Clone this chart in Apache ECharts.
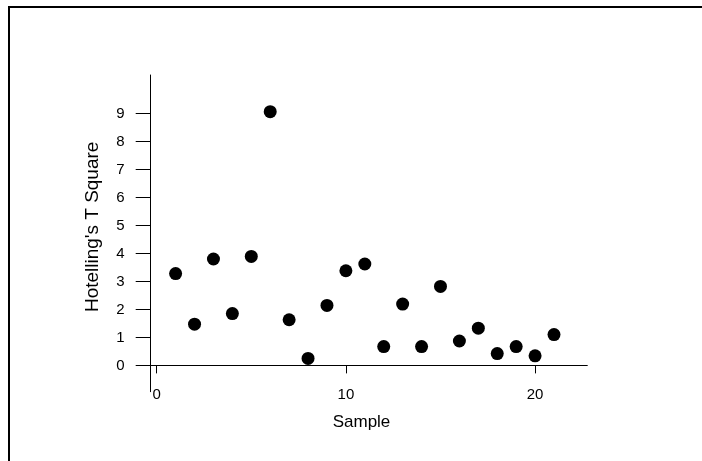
<!DOCTYPE html>
<html>
<head>
<meta charset="utf-8">
<script src="https://cdn.jsdelivr.net/npm/echarts@6/dist/echarts.min.js"></script>
<style>
html,body{margin:0;padding:0;background:#fff;}
#chart{width:702px;height:461px;}
</style>
</head>
<body>
<div id="chart"></div>
<script>
var sampleIds = [1,2,3,4,5,6,7,8,9,10,11,12,13,14,15,16,17,18,19,20,21];
var tSquare = [3.28,1.47,3.80,1.85,3.89,9.06,1.63,0.25,2.14,3.38,3.62,0.67,2.19,0.67,2.82,0.87,1.33,0.42,0.67,0.34,1.10];
var xTicks = [0,10,20];
var yTicks = [0,1,2,3,4,5,6,7,8,9];
var xName = 'Sample';
var yName = "Hotelling's T Square";

var points = sampleIds.map(function(s,i){ return [s, tSquare[i]]; });
var font = 'Liberation Sans, Arial, sans-serif';

var chart = echarts.init(document.getElementById('chart'), null, {renderer:'canvas'});
chart.setOption({
  animation:false,
  backgroundColor:'#fff',
  graphic:[{
    type:'rect', silent:true, z:-1,
    shape:{x:9, y:7, width:800, height:600},
    style:{fill:'none', stroke:'#000', lineWidth:2}
  }],
  grid:{left:150.7, right:114.7, top:75, bottom:69.3, containLabel:false},
  xAxis:{
    type:'value', min:-0.317, max:22.76,
    name:xName, nameLocation:'middle', nameGap:22,
    nameTextStyle:{fontFamily:font, fontSize:17, color:'#000', padding:[0,15,0,0]},
    axisLine:{onZero:true, lineStyle:{color:'#000', width:1}},
    axisTick:{show:true, inside:false, length:8, customValues:xTicks, lineStyle:{color:'#000'}},
    axisLabel:{customValues:xTicks, margin:-4, fontFamily:font, fontSize:15, color:'#000'},
    splitLine:{show:false}
  },
  yAxis:{
    type:'value', min:-0.94, max:10.37,
    name:yName, nameLocation:'middle', nameGap:48, nameRotate:90,
    nameTextStyle:{fontFamily:font, fontSize:19, color:'#000', padding:[0,0,0,13]},
    axisLine:{onZero:false, lineStyle:{color:'#000', width:1}},
    axisTick:{show:true, inside:false, length:15, customValues:yTicks, lineStyle:{color:'#000'}},
    axisLabel:{customValues:yTicks, margin:26, fontFamily:font, fontSize:15, color:'#000'},
    splitLine:{show:false}
  },
  series:[{
    type:'scatter',
    data:points,
    symbol:'circle',
    symbolSize:13,
    itemStyle:{color:'#000', opacity:1},
    emphasis:{disabled:true}
  }]
});
</script>
</body>
</html>
